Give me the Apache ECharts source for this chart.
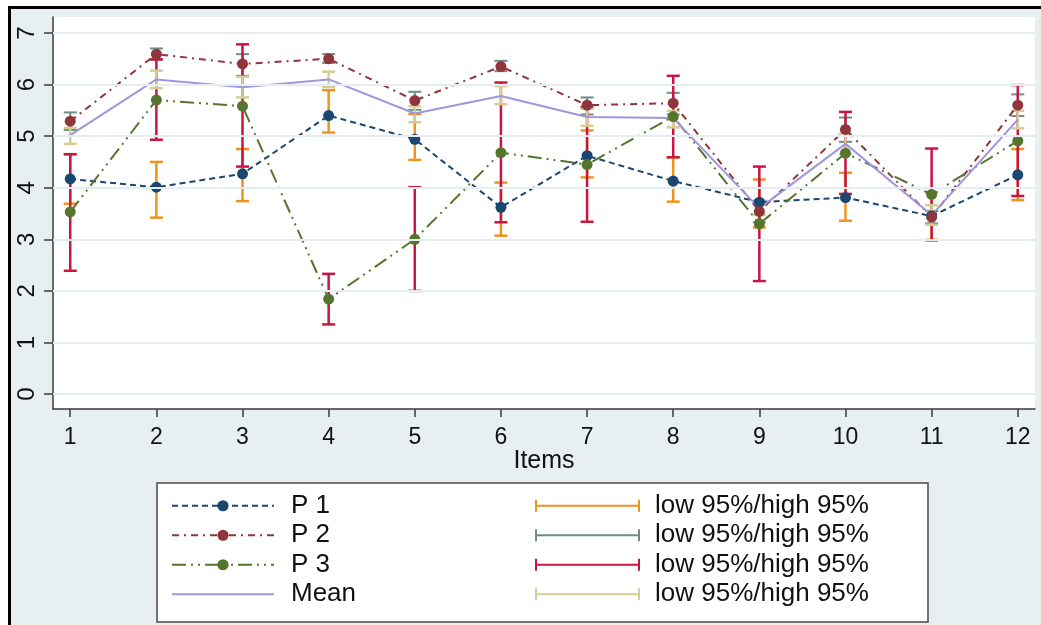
<!DOCTYPE html>
<html>
<head>
<meta charset="utf-8">
<script src="https://cdn.jsdelivr.net/npm/echarts@6/dist/echarts.min.js"></script>
<style>
  html, body { margin: 0; padding: 0; background: #fff; }
  #chart { width: 1041px; height: 625px; }
</style>
</head>
<body>
<div id="chart"></div>
<script>
// items on the x axis
const items = [1, 2, 3, 4, 5, 6, 7, 8, 9, 10, 11, 12];
const yTicks = [0, 1, 2, 3, 4, 5, 6, 7];

// point estimates
const p1 = [4.17, 4.01, 4.27, 5.40, 4.94, 3.62, 4.62, 4.13, 3.72, 3.81, 3.45, 4.25];
const p2 = [5.29, 6.59, 6.40, 6.50, 5.69, 6.35, 5.60, 5.64, 3.54, 5.13, 3.43, 5.60];
const p3 = [3.53, 5.70, 5.58, 1.84, 3.00, 4.68, 4.45, 5.38, 3.30, 4.67, 3.87, 4.91];
const mean = [5.02, 6.10, 5.95, 6.10, 5.44, 5.78, 5.37, 5.35, 3.60, 4.85, 3.47, 5.32];

// low 95% / high 95%
const p1Low = [3.69, 3.42, 3.74, 5.07, 4.54, 3.07, 4.20, 3.73, 3.23, 3.36, 2.99, 3.76];
const p1High = [4.65, 4.50, 4.75, 5.89, 5.43, 4.10, 5.11, 4.59, 4.16, 4.29, 3.91, 4.75];
const p2Low = [5.12, 6.48, 6.17, 6.42, 5.51, 6.26, 5.42, 5.42, 3.33, 4.89, 3.31, 5.39];
const p2High = [5.46, 6.70, 6.59, 6.59, 5.86, 6.46, 5.75, 5.84, 3.75, 5.36, 3.55, 5.81];
const p3Low = [2.39, 4.93, 4.41, 1.35, 2.00, 3.33, 3.34, 4.59, 2.19, 3.88, 2.98, 3.84];
const p3High = [4.65, 6.49, 6.78, 2.33, 4.01, 6.04, 5.56, 6.17, 4.41, 5.47, 4.76, 5.99];
const meanLow = [4.85, 5.93, 5.75, 5.95, 5.27, 5.62, 5.20, 5.17, 3.47, 4.65, 3.28, 5.15];
const meanHigh = [5.16, 6.27, 6.15, 6.25, 5.58, 5.97, 5.53, 5.49, 3.73, 5.05, 3.66, 5.49];

const FONT = "'Liberation Sans', Arial, sans-serif";
const ciLabel = "low 95%/high 95%";
const ciIcon = "path://M0,0h2v12h-2z M0,5h105v2h-105z M103,0h2v12h-2z";

var chart = echarts.init(document.getElementById("chart"));

// 误差线
function errorBar(color, width) {
  return function (params, api) {
    const x = api.value(0);
    const lo = api.coord([x, api.value(1)]);
    const hi = api.coord([x, api.value(2)]);
    const w = 6.5;
    const style = { stroke: color, lineWidth: width, fill: null };
    return {
      type: "group",
      children: [
        { type: "line", shape: { x1: lo[0], y1: lo[1], x2: hi[0], y2: hi[1] }, style: style },
        { type: "line", shape: { x1: lo[0] - w, y1: lo[1], x2: lo[0] + w, y2: lo[1] }, style: style },
        { type: "line", shape: { x1: hi[0] - w, y1: hi[1], x2: hi[0] + w, y2: hi[1] }, style: style },
      ],
    };
  };
}

function ciSeries(name, low, high, color, width) {
  return {
    name: name,
    type: "custom",
    z: 2,
    itemStyle: { color: color },
    renderItem: errorBar(color, width),
    encode: { x: 0, y: [1, 2] },
    data: items.map((x, i) => [x, low[i], high[i]]),
  };
}

function lineSeries(name, values, color, dash, marker) {
  return {
    name: name,
    type: "line",
    z: 3,
    symbol: marker ? "circle" : "none",
    symbolSize: 11,
    itemStyle: { color: color },
    lineStyle: { color: color, width: 2, type: dash },
    data: items.map((x, i) => [x, values[i]]),
  };
}

const option = {
  backgroundColor: "#e8eff1",
  animation: false,
  textStyle: { fontFamily: FONT },
  graphic: [
    // white strips outside the black frame
    { type: "rect", shape: { x: 0, y: 0, width: 1041, height: 6 }, style: { fill: "#fff" } },
    { type: "rect", shape: { x: 0, y: 0, width: 8, height: 625 }, style: { fill: "#fff" } },
    { type: "rect", shape: { x: 8, y: 6, width: 1033, height: 3 }, style: { fill: "#000" } },
    { type: "rect", shape: { x: 8, y: 6, width: 3, height: 619 }, style: { fill: "#000" } },
    // legend box
    {
      type: "rect",
      shape: { x: 157, y: 483, width: 771, height: 139 },
      style: { fill: "#fff", stroke: "#4a4a4a", lineWidth: 1.5 },
    },
  ],
  grid: {
    left: 53,
    right: 6,
    top: 17,
    bottom: 216,
    show: true,
    backgroundColor: "#fff",
    borderWidth: 0,
  },
  legend: [
    {
      data: [
        "P 1",
        "P 2",
        "P 3",
        { name: "Mean", icon: "path://M0,5h102v2.2h-102z" },
      ],
      orient: "vertical",
      left: 166,
      top: 486,
      itemWidth: 102,
      itemHeight: 14,
      itemGap: 0,
      selectedMode: false,
      textStyle: { fontSize: 26, lineHeight: 29.5, color: "#111", fontFamily: FONT, padding: [0, 0, 0, 12] },
    },
    {
      data: ["ci1", "ci2", "ci3", "ci4"],
      orient: "vertical",
      left: 530,
      top: 486,
      itemWidth: 105,
      itemHeight: 12,
      itemGap: 0,
      icon: ciIcon,
      selectedMode: false,
      formatter: function () {
        return ciLabel;
      },
      textStyle: { fontSize: 26, lineHeight: 29.5, color: "#111", fontFamily: FONT, padding: [0, 0, 0, 10] },
    },
  ],
  xAxis: {
    type: "value",
    min: 0.8,
    max: 12.2,
    name: "Items",
    nameLocation: "middle",
    nameGap: 40,
    nameMoveOverlap: false,
    nameTextStyle: { fontSize: 25, color: "#111", fontFamily: FONT },
    axisLine: { show: true, onZero: false, lineStyle: { color: "#3a3a3a", width: 1.5 } },
    axisTick: { show: true, length: 8, customValues: items, lineStyle: { color: "#3a3a3a", width: 1.5 } },
    axisLabel: { customValues: items, fontSize: 23, color: "#111", margin: 17, fontFamily: FONT },
    splitLine: { show: false },
  },
  yAxis: {
    type: "value",
    min: -0.29,
    max: 7.31,
    axisLine: { show: true, lineStyle: { color: "#3a3a3a", width: 1.5 } },
    axisTick: { show: true, length: 9, customValues: yTicks, lineStyle: { color: "#3a3a3a", width: 1.5 } },
    axisLabel: { customValues: yTicks, rotate: 90, fontSize: 24, color: "#111", margin: 14, fontFamily: FONT },
    splitLine: { show: false },
  },
  series: [
    {
      // 网格线
      name: "grid",
      type: "line",
      z: 1,
      data: [],
      markLine: {
        silent: true,
        symbol: "none",
        label: { show: false },
        lineStyle: { color: "#e4edf1", width: 2, type: "solid" },
        data: yTicks.map((v) => ({ yAxis: v })),
      },
    },
    ciSeries("ci1", p1Low, p1High, "#ef931f", 2.5),
    ciSeries("ci2", p2Low, p2High, "#6e8e84", 2),
    ciSeries("ci3", p3Low, p3High, "#c9153f", 2.5),
    ciSeries("ci4", meanLow, meanHigh, "#d5cd95", 2.5),
    lineSeries("P 1", p1, "#1a476f", [6, 4], true),
    lineSeries("P 2", p2, "#90353b", [7, 5, 2, 5], true),
    lineSeries("P 3", p3, "#55752f", [14, 5, 2, 5, 2, 5], true),
    lineSeries("Mean", mean, "#9d97dd", "solid", false),
  ],
};
chart.setOption(option);
</script>
</body>
</html>
